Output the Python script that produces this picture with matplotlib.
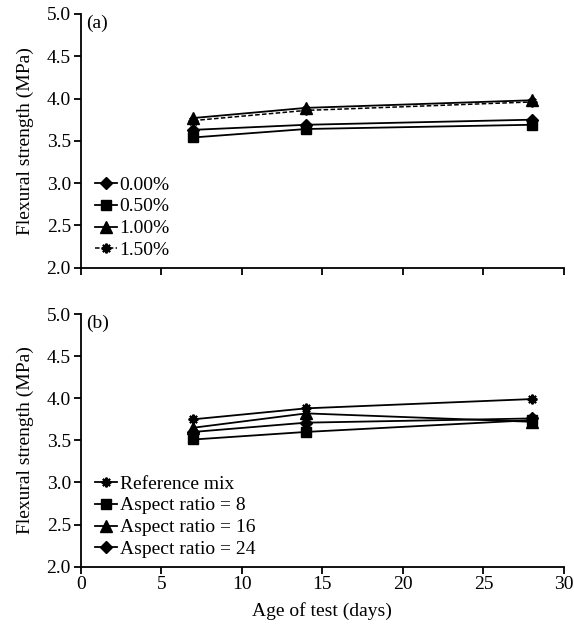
import matplotlib
matplotlib.use("Agg")
import matplotlib.pyplot as plt

# Test ages (days)
days = [7, 14, 28]

# (a) fibre content
content_labels = ["0.00%", "0.50%", "1.00%", "1.50%"]
fs_000 = [3.63, 3.69, 3.75]
fs_050 = [3.54, 3.64, 3.69]
fs_100 = [3.77, 3.89, 3.98]
fs_150 = [3.74, 3.86, 3.96]

# (b) aspect ratio
ratio_labels = ["Reference mix", "Aspect ratio = 8", "Aspect ratio = 16", "Aspect ratio = 24"]
fs_ref = [3.75, 3.88, 3.99]
fs_ar8 = [3.51, 3.60, 3.74]
fs_ar16 = [3.65, 3.82, 3.72]
fs_ar24 = [3.60, 3.71, 3.76]

yticks = [2.0, 2.5, 3.0, 3.5, 4.0, 4.5, 5.0]
xticks = [0, 5, 10, 15, 20, 25, 30]

plt.rcParams['font.family'] = ['Liberation Serif', 'DejaVu Serif']
plt.rcParams['font.size'] = 14

asterisk = (8, 2, 0)

fig = plt.figure(figsize=(5.74, 6.35), dpi=100)
ax1 = fig.add_axes([0.1406, 0.5784, 0.842, 0.3996])
ax2 = fig.add_axes([0.1406, 0.1076, 0.842, 0.3979])

lw = 1.3
ax1.plot(days, fs_000, color='black', lw=lw, marker='D', ms=6, label=content_labels[0])
ax1.plot(days, fs_050, color='black', lw=lw, marker='s', ms=7, label=content_labels[1])
ax1.plot(days, fs_100, color='black', lw=lw, marker='^', ms=8, label=content_labels[2])
ax1.plot(days, fs_150, color='black', lw=1.1, ls=(0, (3, 1.5)), marker=asterisk,
         ms=7, mew=1.5, label=content_labels[3])

ax2.plot(days, fs_ref, color='black', lw=lw, marker=asterisk, ms=7, mew=1.5, label=ratio_labels[0])
ax2.plot(days, fs_ar8, color='black', lw=lw, marker='s', ms=7, label=ratio_labels[1])
ax2.plot(days, fs_ar16, color='black', lw=lw, marker='^', ms=8, label=ratio_labels[2])
ax2.plot(days, fs_ar24, color='black', lw=lw, marker='D', ms=6, label=ratio_labels[3])

for ax, tag in [(ax1, "(a)"), (ax2, "(b)")]:
    ax.set_xlim(0, 30)
    ax.set_ylim(2.0, 5.0)
    ax.set_yticks(yticks)
    ax.set_yticklabels([f"{v:.1f}" for v in yticks])
    ax.set_xticks(xticks)
    for s in ['top', 'right']:
        ax.spines[s].set_visible(False)
    for s in ['left', 'bottom']:
        ax.spines[s].set_linewidth(1.3)
    ax.tick_params(direction='out', length=5, width=1.3, pad=2)
    ax.set_ylabel("Flexural strength (MPa)", labelpad=9)
    ax.text(0.012, 0.998, tag, transform=ax.transAxes, ha='left', va='top')
    ax.legend(loc='lower left', bbox_to_anchor=(0.01, -0.005), frameon=False,
              handlelength=1.1, handletextpad=0.15, labelspacing=0.22, borderpad=0.0)

ax1.tick_params(axis='x', labelbottom=False)
ax2.set_xlabel("Age of test (days)", labelpad=6)

fig.savefig("out.png", dpi=100)
